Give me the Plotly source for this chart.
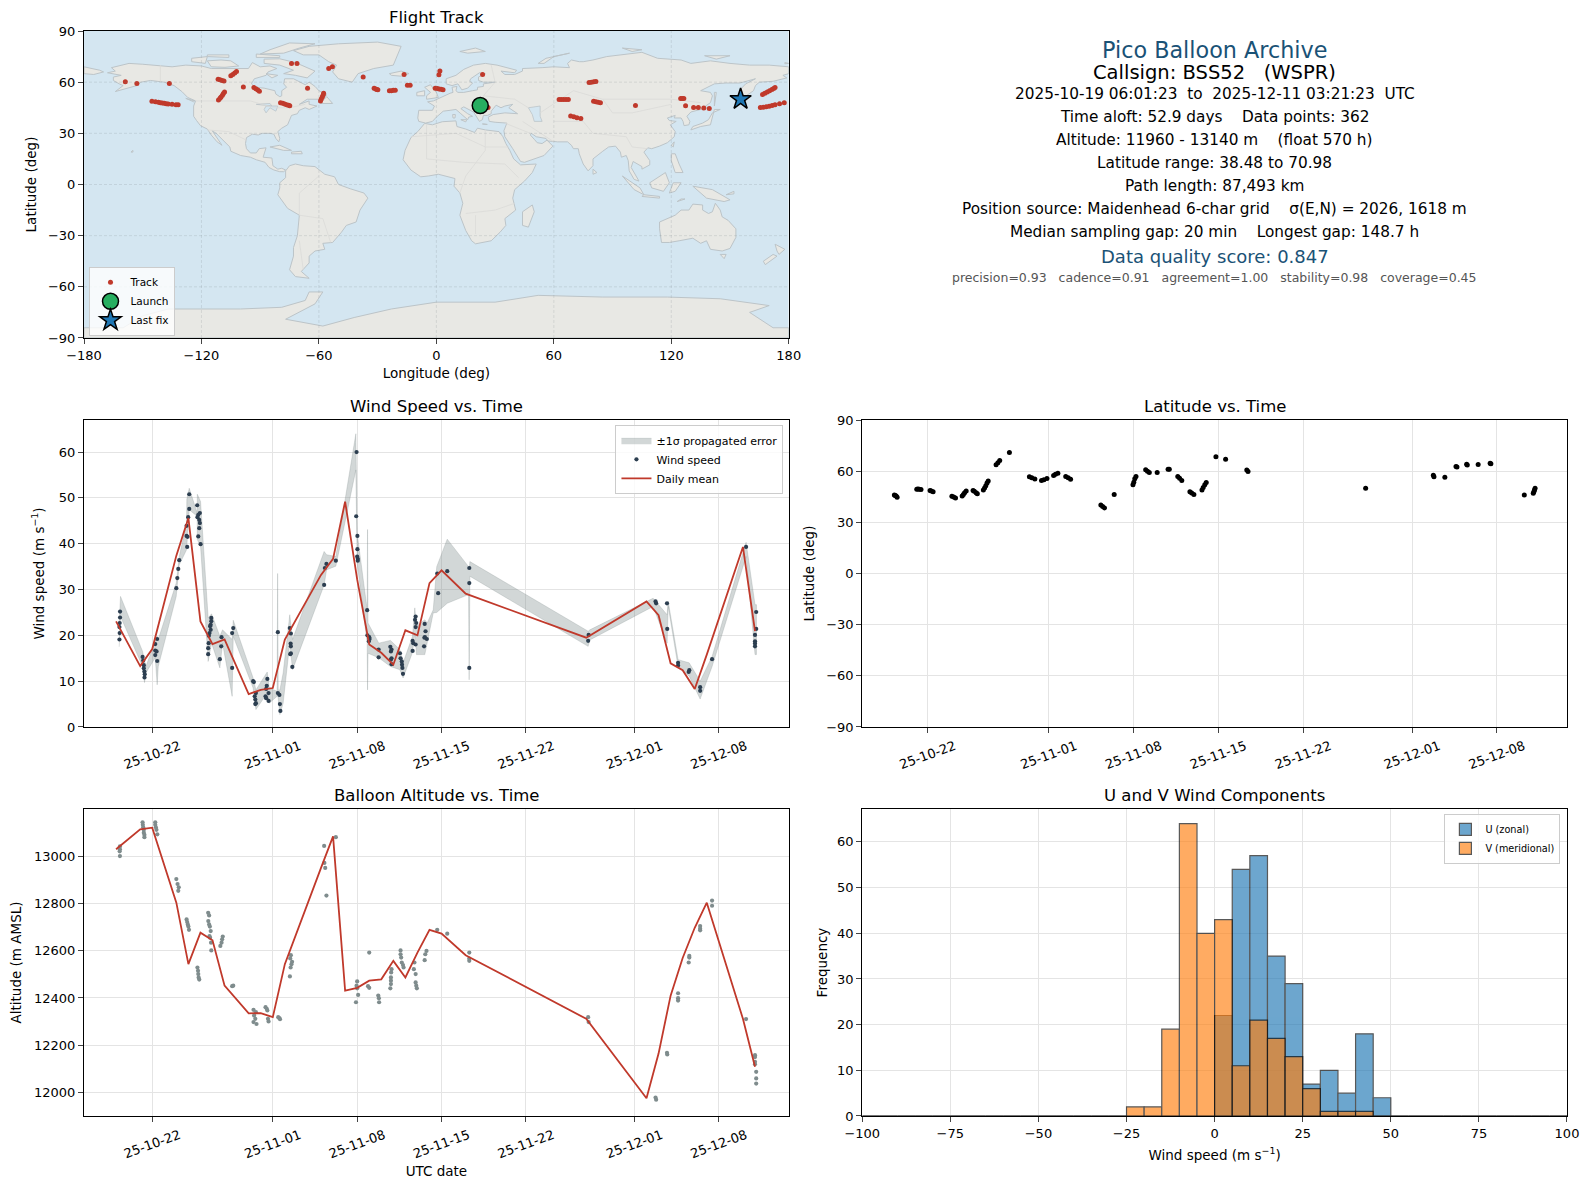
import pandas as pd
import plotly.graph_objects as go
from plotly.subplots import make_subplots

# time axis is "day of October" so 32 = 1 Nov, 62 = 1 Dec
tick_days = [22, 32, 39, 46, 53, 62, 69]

wind_days = [19.33, 19.33, 19.3, 19.28, 19.3, 19.28,
             21.2, 21.25, 21.3, 21.3, 21.35, 21.38, 21.36,
             22.41, 22.25, 22.25, 22.36, 22.25, 22.41,
             24.24, 24.16, 24.08, 24.0,
             25.07, 25.07, 24.98, 24.85, 24.85, 24.93, 24.9,
             25.73, 25.95, 25.82, 25.75, 25.9, 25.95, 25.9, 25.82, 26.01,
             26.9, 26.9, 26.85, 26.8, 26.85, 26.75, 26.7, 26.68, 26.64, 26.64,
             27.75, 27.72, 27.61,
             28.72, 28.63, 28.63,
             30.37, 30.43, 30.6, 30.5, 30.55, 30.6, 30.55,
             31.55, 31.5, 31.45, 31.65, 31.4, 31.45, 31.65,
             32.42, 32.42, 32.55, 32.59, 32.63,
             33.41, 33.5, 33.48, 33.5, 33.5, 33.45, 33.62,
             36.45, 36.32, 36.26,
             37.23,
             38.95, 38.92, 39.02, 39.02, 39.0, 39.05, 39.05,
             39.83, 39.85, 40.0, 40.03, 39.97,
             40.78, 40.78,
             41.75, 41.85, 41.8, 41.85, 41.8, 41.85,
             42.55, 42.6, 42.7, 42.72, 42.75, 42.8,
             43.85, 43.8, 43.9, 43.85, 43.6, 43.65, 43.85, 43.6,
             44.6, 44.67, 44.62, 44.58, 44.78, 44.55,
             45.72, 45.64, 46.47,
             48.3, 48.3, 48.3,
             58.2, 58.16,
             63.75, 63.8,
             64.7, 64.72,
             65.62, 65.62,
             66.55, 66.5,
             67.45, 67.45,
             68.44,
             71.26,
             72.1, 72.1, 72.0, 72.0, 72.0, 72.0]
wind_speed = [25.2, 23.9, 22.7, 21.8, 20.5, 19.1,
              15.3, 14.5, 13.5, 12.8, 12.1, 11.5, 10.8,
              19.2, 18.1, 16.7, 16.5, 15.7, 14.4,
              36.4, 34.5, 32.5, 30.3,
              50.8, 47.6, 45.8, 43.9, 41.7, 41.5, 39.3,
              48.4, 46.7, 46.3, 45.8, 45.2, 44.5, 43.4, 41.6, 39.9,
              23.8, 23.1, 22.3, 22.0, 21.2, 20.5, 19.9, 18.3, 17.2, 15.9,
              19.6, 17.6, 14.8,
              21.6, 20.5, 12.9,
              10.0, 9.8, 7.4, 6.7, 6.0, 5.2, 5.0,
              10.5, 9.0, 8.3, 7.4, 6.7, 6.3, 5.7,
              20.7, 7.4, 7.0, 5.0, 3.5,
              21.6, 20.4, 18.2, 17.6, 16.1, 15.9, 13.1,
              35.6, 34.7, 31.0,
              36.3,
              60.0, 46.0, 41.7, 38.8, 37.2, 36.7, 36.3,
              25.5, 20.0, 19.6, 19.2, 18.7,
              16.9, 15.2,
              17.5, 16.9, 16.5, 15.0, 14.7, 13.7,
              16.1, 15.0, 14.3, 13.6, 12.9, 11.6,
              24.1, 23.4, 22.7, 21.8, 18.8, 18.3, 18.0, 16.6,
              22.5, 20.9, 19.6, 19.5, 19.2, 17.6,
              29.2, 33.5, 34.0,
              34.7, 31.4, 12.9,
              20.1, 18.8,
              27.4, 27.0,
              27.0, 21.4,
              14.0, 13.4,
              12.4, 12.0,
              8.7, 7.9,
              14.8,
              39.3,
              25.1, 21.4, 20.1, 18.7, 18.2, 17.6]

band_days = [19.26, 19.37, 21.2, 21.36, 21.47, 22.25, 22.41, 22.5, 23.99, 24.24, 24.85, 24.87, 25.07,
             25.73, 25.74, 26.01, 26.64, 26.92, 27.61, 27.83, 28.63, 28.72, 30.37, 30.6, 31.54, 31.7,
             32.36, 32.4, 32.45, 32.59, 32.86, 33.41, 33.64, 36.26, 36.46, 37.23, 38.89, 39.0, 39.83,
             39.86, 39.9, 40.79, 41.76, 42.54, 42.81, 43.59, 43.78, 43.92, 44.61, 44.81, 45.31, 45.6,
             46.47, 48.24, 48.29, 48.35, 58.16, 58.3, 63.55, 64.71, 64.8, 65.62, 66.54, 67.45, 68.44,
             71.26, 72.0, 72.12]
band_hi = [22.7, 28.5, 16.5, 14.0, 13.2, 18.7, 19.8, 19.1, 31.4, 37.2, 44.5, 49.7, 52.1,
           46.7, 50.8, 49.2, 23.8, 24.7, 19.8, 21.2, 19.1, 23.3, 10.7, 8.1, 12.0, 8.5,
           7.8, 33.5, 8.1, 8.1, 11.8, 24.5, 19.1, 38.3, 37.6, 37.2, 64.0, 42.3, 25.6,
           43.1, 22.7, 18.3, 18.9, 16.9, 14.0, 19.8, 26.0, 22.0, 23.4, 22.7, 25.6, 35.0,
           41.0, 35.0, 34.3, 36.1, 20.9, 21.2, 28.1, 24.5, 27.4, 14.7, 14.0, 10.0, 15.4,
           40.3, 26.7, 26.7]
band_lo = [17.5, 24.1, 13.2, 9.7, 11.8, 15.1, 9.2, 13.2, 28.5, 35.4, 38.7, 40.9, 47.4,
           46.0, 40.9, 39.4, 14.3, 18.3, 12.9, 18.3, 6.7, 19.8, 8.5, 3.8, 7.4, 5.2,
           6.7, 7.4, 6.7, 2.7, 5.2, 18.3, 12.5, 31.0, 34.3, 35.1, 56.1, 35.8, 18.3,
           8.1, 16.1, 15.1, 13.2, 12.5, 10.7, 16.3, 20.5, 15.8, 15.8, 18.3, 24.9, 25.0,
           27.0, 28.9, 10.3, 32.9, 17.6, 19.0, 26.3, 18.3, 26.3, 13.2, 11.1, 6.1, 13.2,
           37.2, 15.8, 15.8]

mean_days = [19, 21, 22, 24, 25, 26, 27, 28, 30, 31, 32, 33, 36, 37, 38, 39, 40, 41, 42, 43, 44, 45,
             46, 48, 58, 63, 64, 65, 66, 67, 68, 71, 72]
wind_mean = [23.05, 13.3, 17.0, 37.4, 45.6, 23.05, 18.1, 19.1, 7.2, 8.1, 8.5, 19.1, 33.2, 36.7, 49.2,
             32.2, 18.0, 16.2, 13.6, 21.1, 20.0, 31.4, 34.2, 29.1, 19.5, 27.4, 24.4, 13.9, 12.4, 8.3,
             15.8, 39.3, 20.9]
alt_mean = [13029, 13113, 13120, 12803, 12543, 12676, 12644, 12452, 12335, 12336, 12319, 12543, 12950,
            13083, 12431, 12443, 12473, 12479, 12557, 12487, 12592, 12688, 12672, 12581, 12312, 11976,
            12165, 12410, 12569, 12697, 12803, 12312, 12109]

alt_days = [19.32, 19.32, 19.3, 19.32,
            21.2, 21.22, 21.25, 21.3, 21.3, 21.35, 21.35,
            22.25, 22.25, 22.3, 22.35, 22.42,
            24.0, 24.1, 24.2, 24.16,
            24.85, 24.9, 24.95, 25.0, 25.05,
            25.75, 25.8, 25.82, 25.85, 25.9,
            26.64, 26.72, 26.65, 26.72, 26.78, 26.85, 26.75, 26.8, 26.88, 26.9,
            27.85, 27.8, 27.75, 27.65,
            28.63, 28.72,
            30.4, 30.6, 30.45, 30.55, 30.4, 30.65,
            31.4, 31.5, 31.55, 31.6, 31.65,
            32.45, 32.55, 32.6,
            33.5, 33.45, 33.6, 33.55, 33.48, 33.42,
            36.26, 36.28, 36.35, 36.45,
            37.23,
            39.0, 38.95, 39.0, 39.08, 38.9,
            40.0, 39.9, 40.0,
            40.75, 40.8, 40.82,
            41.85, 41.82, 41.8, 41.8, 41.8, 41.75,
            42.6, 42.6, 42.65, 42.7, 42.8, 42.85,
            43.75, 43.7, 43.85, 43.85, 43.9, 43.95,
            44.75, 44.65, 44.6,
            45.64, 46.47,
            48.3, 48.3, 48.3,
            58.16, 58.2,
            63.75, 63.8,
            64.7, 64.72,
            65.62, 65.62, 65.62,
            66.55, 66.55, 66.5,
            67.45, 67.45, 67.45,
            68.44, 68.44,
            71.26,
            72.0, 72.0, 72.0, 72.0, 72.1, 72.1, 72.1]
alt_values = [13041, 13029, 13020, 13000,
              13143, 13132, 13122, 13111, 13099, 13090, 13080,
              13143, 13132, 13122, 13111, 13092,
              12903, 12882, 12868, 12853,
              12732, 12721, 12711, 12702, 12688,
              12529, 12515, 12501, 12487, 12478,
              12760, 12749, 12725, 12711, 12702, 12683, 12662, 12655, 12634, 12601,
              12660, 12648, 12634, 12620,
              12450, 12452,
              12350, 12340, 12326, 12312, 12298, 12290,
              12361, 12354, 12347, 12312, 12301,
              12319, 12315, 12310,
              12581, 12567, 12553, 12543, 12529, 12491,
              13043, 12971, 12950, 12833,
              13080,
              12470, 12452, 12441, 12413, 12382,
              12592, 12450, 12443,
              12410, 12399, 12382,
              12522, 12508, 12487, 12473, 12459, 12441,
              12601, 12585, 12571, 12550, 12539, 12529,
              12550, 12522, 12501, 12466, 12452, 12441,
              12599, 12585, 12560,
              12688, 12672,
              12592, 12567, 12557,
              12319, 12298,
              11979, 11970,
              12168, 12161,
              12420, 12399, 12389,
              12578, 12571, 12550,
              12704, 12693, 12686,
              12812, 12790,
              12311,
              12158, 12150, 12130, 12120, 12088, 12060, 12038]

lat_days = [19.25, 19.32, 19.4, 19.48,
            21.1, 21.2, 21.3, 21.45,
            22.2, 22.3, 22.45,
            24.0, 24.15, 24.3,
            24.85, 24.95, 25.05, 25.18,
            25.75, 25.85, 26.0, 26.1,
            26.6, 26.7, 26.8, 26.9, 27.0,
            27.65, 27.8, 27.95,
            28.75,
            30.4, 30.6, 30.85,
            31.4, 31.6, 31.85,
            32.4, 32.55, 32.75,
            33.4, 33.6, 33.8,
            36.3, 36.45, 36.6,
            37.4,
            38.95, 39.02, 39.1, 39.2,
            40.0, 40.15, 40.3,
            40.95,
            41.85, 41.95,
            42.65, 42.8, 42.98,
            43.65, 43.8, 43.98,
            44.65, 44.75, 44.88, 45.0,
            45.8,
            46.6,
            48.35, 48.45,
            58.16,
            63.75, 63.8,
            64.7,
            65.62, 65.7,
            66.5, 66.55,
            67.45,
            68.44, 68.5,
            71.26,
            72.0, 72.05, 72.1, 72.15]
lat_values = [46.1, 45.8, 45.4, 44.7,
              49.4, 49.5, 49.4, 49.3,
              48.6, 48.4, 48.0,
              45.3, 44.8, 44.3,
              45.5, 46.3, 47.4, 48.4,
              48.6, 48.2, 47.4, 46.7,
              49.0, 50.2, 51.5, 53.0, 54.3,
              63.7, 65.0, 66.3,
              70.98,
              56.7, 56.2, 55.4,
              54.5, 54.9, 55.7,
              57.5, 58.2, 58.8,
              56.9, 56.2, 55.3,
              40.2, 39.3, 38.48,
              46.3,
              52.0, 53.5, 55.5, 56.9,
              60.8, 60.0, 59.2,
              59.2,
              61.2, 61.2,
              56.9, 55.8, 54.5,
              48.0, 47.2, 46.3,
              49.0, 50.5, 52.0, 53.3,
              68.4,
              67.0,
              60.7, 59.8,
              50.0,
              57.6, 56.8,
              56.5,
              62.8, 62.4,
              64.0, 63.6,
              63.9,
              64.6, 64.3,
              46.0,
              47.0, 48.0, 49.0, 50.0]

track_lon = [-158.9, -153, -136.4,
             -145.3, -143.5, -142, -141, -140, -139, -138, -137, -135, -133, -131.9,
             -111.5, -110.5, -109.5, -108.5,
             -105, -104, -103, -102.1,
             -111.3, -110.5, -110, -109.3, -108.8, -108.2,
             -98.6,
             -93.2, -92.2, -91.2, -90.4,
             -79.6, -78.5, -77.5, -76.5, -75.5, -74.9,
             -74, -71.2,
             -65.8,
             -59.2, -58.8, -58.3, -57.9, -57.6,
             -55, -53.1,
             -37.4,
             -31.8, -31, -30.4, -29.9,
             -24, -23, -22, -21,
             -16.5,
             -14.8, -13.4,
             -0.6, 0.4, 1.4, 2.4, 3.4,
             1.3, 1.8,
             23.6,
             26.4,
             62.7, 63.8, 65, 66.2, 67.4,
             68.6, 70.2, 71.8, 73.8,
             78, 79.2, 80.4, 81.5,
             80.3, 81.5, 82.6, 83.8,
             101.7,
             124.8, 125.6, 126.4,
             127.3,
             131.4, 133.8, 136.6, 139.4,
             165.5, 167, 168.5, 170, 171.5, 173, 175.3, 177.7,
             166.6, 167.8, 169, 170.2, 171.4, 172.3, 173]
track_lat = [60.3, 59.2, 59.2,
             48.8, 48.5, 48.2, 48, 47.8, 47.6, 47.4, 47.2, 47, 46.8, 46.7,
             61.7, 61.4, 61, 60.7,
             63.7, 64.5, 65.4, 66.2,
             49.6, 50.5, 51.3, 52.3, 53.3, 54.3,
             57.2,
             56.8, 56.2, 55.4, 54.7,
             48, 47.6, 47.2, 46.8, 46.4, 46.1,
             70.9, 70.9,
             56.4,
             49, 50.2, 51.3, 52.4, 53.5,
             68, 69.1,
             63.1,
             56.4, 56, 55.7, 55.5,
             54.9, 55, 55.2, 55.3,
             64.5,
             58.2, 58.2,
             56.4, 56.3, 56, 55.8, 55.5,
             64.3, 66.6,
             64.5,
             45.1,
             49.8, 49.8, 49.8, 49.8, 49.8,
             40.2, 39.7, 39.2, 38.7,
             59.8, 60, 60.2, 60.4,
             48.8, 48.5, 48.2, 47.9,
             46.3,
             50.4, 50.4, 50.4,
             46.1,
             45.1, 45.1, 44.8, 44.5,
             45.1, 45.3, 45.6, 45.9, 46.3, 46.8, 47.4, 48,
             52.7, 53.5, 54.2, 55, 55.7, 56.3, 56.8]
launch_lon, launch_lat = [22.4], [46.3]
lastfix_lon, lastfix_lat = [155.4], [50.0]

# land outlines (lon, lat)
north_america = [(-168, 65.5), (-164, 66.5), (-166, 68.5), (-157, 71), (-150, 70.5), (-141, 69.7), (-135, 69), (-128, 70),
                 (-120, 69.5), (-115, 68), (-108, 68), (-101, 68), (-96, 68), (-94, 71.5), (-90, 69), (-85, 69.5),
                 (-81.5, 68), (-86, 66), (-87, 64), (-93, 62), (-94.5, 59), (-92.5, 57), (-88, 56.5), (-82.5, 55),
                 (-82, 53), (-80, 51.5), (-79, 52), (-79, 55), (-76.5, 57), (-78, 59), (-77.5, 62), (-73, 62), (-70, 60),
                 (-67, 58.5), (-65, 60), (-62, 57.5), (-60, 55), (-56, 52.5), (-60, 50), (-66, 50), (-70, 47), (-65, 49),
                 (-65, 47), (-61, 46), (-65, 44), (-67, 45), (-70, 43.5), (-71, 41.5), (-74, 40.5), (-75.5, 37), (-76, 35),
                 (-79, 33), (-81, 31), (-80, 27), (-80.5, 25), (-82, 27), (-83, 29.5), (-85, 30), (-89, 30), (-91, 29),
                 (-94, 29.5), (-97, 27.5), (-97.5, 24), (-97, 21), (-95, 18.5), (-92, 18.5), (-90.5, 21), (-87, 21.5),
                 (-88, 18), (-88.5, 16), (-84, 15.5), (-83.5, 11), (-81, 9), (-79, 9.5), (-77, 8.5), (-78, 7.5), (-80, 7.5),
                 (-83, 8.5), (-85.5, 10), (-87.5, 13), (-92, 14.5), (-95, 16), (-100, 17), (-105, 19.5), (-105.5, 22),
                 (-109, 26), (-112.5, 30), (-114.5, 31.5), (-112, 27), (-109.5, 23), (-112, 25), (-115, 29), (-117, 32.5),
                 (-120.5, 34.5), (-122.5, 37.5), (-124, 40), (-124, 46), (-123, 49), (-127, 51), (-130, 54.5), (-134, 58),
                 (-139, 60), (-146, 61), (-151, 60), (-153, 58), (-158, 56.5), (-164, 54.5), (-160, 58), (-162, 59),
                 (-165, 61), (-165, 63), (-161, 64), (-168, 65.5)]
greenland = [(-73, 78.5), (-65, 81), (-50, 82.5), (-30, 83.5), (-18, 81), (-20, 75), (-22, 70), (-32, 68), (-40, 65),
             (-43, 60), (-50, 62), (-53, 66), (-51, 70), (-55, 72), (-60, 76), (-68, 76), (-73, 78.5)]
baffin = [(-88, 73.5), (-80, 73.7), (-72, 71.5), (-67, 69), (-62, 66.5), (-66, 62.5), (-72, 64), (-78, 65), (-73, 67),
          (-80, 70), (-88, 71), (-88, 73.5)]
victoria = [(-117, 72.5), (-110, 73), (-105, 72.5), (-101, 69.5), (-108, 68.7), (-115, 69), (-117, 72.5)]
ellesmere = [(-90, 76.5), (-85, 79), (-75, 83), (-62, 82.5), (-70, 80), (-78, 77), (-90, 76.5)]
banks = [(-125, 74), (-117, 75), (-118, 71), (-125, 72), (-125, 74)]
devon = [(-92, 76.5), (-80, 75.5), (-80, 74.5), (-92, 74.5), (-92, 76.5)]
melville = [(-117, 76), (-106, 76), (-106, 74.5), (-117, 75), (-117, 76)]
southampton = [(-87, 65), (-81, 64), (-84, 62.5), (-87, 65)]
newfoundland = [(-59, 48), (-56, 51.5), (-53, 47.5), (-59, 47.5), (-59, 48)]
vancouver = [(-128, 50.5), (-124, 48.5), (-123.5, 49), (-128, 50.5)]
hawaii = [(-156, 19), (-155, 20), (-155, 19), (-156, 19)]
iceland = [(-24, 65), (-18, 66.5), (-14, 65), (-18, 63.5), (-23, 64), (-24, 65)]
britain = [(-5, 50), (1, 51), (0, 54), (-3, 58.5), (-6, 57), (-3, 54), (-5, 52), (-5, 50)]
ireland = [(-10, 52), (-6, 52), (-6, 55), (-10, 54), (-10, 52)]
eurasia = [(-9, 37), (-9.5, 39), (-9, 43.5), (-2, 43.5), (-1, 46), (-4.5, 48.5), (-1.5, 49), (2, 51), (4, 52), (7, 53.5),
           (8.5, 54), (8, 57), (10.5, 57.5), (10, 55), (11, 54), (14, 54), (18.5, 55), (21, 55.5), (21, 57), (24, 57.5),
           (24, 59), (30, 60), (24, 60), (21.5, 61), (21.5, 63), (25, 65), (22, 65.5), (17.5, 62), (17, 60.5), (18.5, 59.5),
           (16, 56.5), (13, 55.5), (11, 59), (8, 58), (5, 59), (5, 62), (10, 64), (14, 67.5), (19, 70), (25, 71), (31, 70),
           (41, 67), (40, 65.5), (35, 66.5), (33, 66.5), (35, 64.5), (40, 64.5), (44, 66.5), (44, 68), (54, 68.5), (60, 69),
           (68, 68.5), (67, 71), (69, 73), (73, 72), (75, 72), (80, 73), (87, 75), (100, 76.5), (105, 77.5), (113, 74),
           (125, 73), (130, 71), (140, 72.5), (150, 71), (160, 70), (170, 70), (180, 69), (180, 65), (177, 64), (179, 62.5),
           (172, 60.5), (165, 60), (163, 58), (162, 55), (157, 51), (155.5, 56), (158, 59), (163, 62), (155, 59.5),
           (148, 59.5), (142, 59), (135, 55), (140, 54), (141, 52), (140, 48), (135, 44), (130, 42.5), (128, 40),
           (129.5, 37), (129, 35), (126.5, 34.5), (126, 37), (125, 39), (121.5, 39), (122, 40.5), (118, 39), (119, 37.5),
           (122.5, 37), (119.5, 35), (122, 31), (121.5, 28), (118, 24.5), (114, 22.5), (110, 21), (108, 21.5), (106, 19),
           (109, 14), (109, 11.5), (105, 9), (105, 10.5), (100.5, 13.5), (99.5, 10), (103.5, 2), (101, 3), (98.5, 8),
           (98, 14), (97, 17), (94.5, 16), (94, 19), (91.5, 22.5), (88, 22), (85, 19.5), (80, 15), (80, 11), (77.5, 8),
           (75, 12), (73, 18), (72.5, 21), (70, 21), (69, 23), (67, 25), (62, 25), (57, 25.5), (56, 27), (51, 28),
           (48.5, 30), (48, 29), (50, 26.5), (51.5, 24.5), (54, 24), (56.5, 26), (59.5, 22.5), (55, 17), (45, 13),
           (43, 13.5), (39, 21), (35, 28), (34.5, 31.5), (36, 36), (30, 36.5), (27, 37), (26.5, 39.5), (29, 41), (35, 42),
           (41.5, 41.5), (37, 45), (39, 47), (35, 46), (33, 45), (30.5, 46.5), (28, 43), (28, 41.5), (26, 40.5), (24, 40.5),
           (23.5, 38), (22, 37), (19.5, 41), (19, 42.5), (14, 45.5), (12.5, 44.5), (16, 41.5), (18.5, 40), (16.5, 39.5),
           (16, 38), (12.5, 41.5), (10, 44), (7, 43.5), (3.5, 43), (0, 39.5), (-2, 37), (-5.5, 36), (-9, 37)]
chukotka = [(-180, 69), (-172, 67), (-170, 66), (-175, 64.5), (-180, 65), (-180, 69)]
africa = [(-17, 14.5), (-16, 20), (-13, 27.5), (-9.5, 31), (-6, 35.8), (-2, 35), (3, 36.8), (10, 37.3), (10.5, 34), (15, 32.5),
          (19.5, 30.5), (21, 33), (25, 32), (32, 31), (34, 28), (35.5, 24), (37.5, 20), (39.5, 15), (43, 11.5), (51, 12),
          (49, 7), (45, 2), (40, -3), (39, -8), (40.5, -15), (35, -20), (35.5, -24), (32.5, -28), (28, -33), (20, -34.8),
          (18, -33), (15, -27), (12, -18), (13.5, -11), (12, -5), (9, -1), (9.5, 3.5), (6, 4.5), (1, 6), (-4, 5), (-8, 4.5),
          (-13, 8.5), (-17, 14.5)]
madagascar = [(44, -16), (49, -12), (50, -16), (47, -25), (44, -24), (44, -16)]
south_america = [(-77, 8), (-75, 11), (-72, 12), (-68, 11), (-62, 10.5), (-57, 6), (-52, 4.5), (-50, 0), (-44, -2.5), (-37, -5),
                 (-35, -8), (-39, -15), (-41, -22), (-46, -24), (-48.5, -28), (-53, -34), (-58, -34.5), (-57, -38), (-62, -39),
                 (-65, -42), (-65, -46), (-69, -51), (-65, -55), (-72, -54), (-75, -50), (-73, -42), (-73, -37), (-71, -30),
                 (-70, -18), (-76, -14), (-81, -6), (-80, -2), (-80, 1), (-77, 4), (-77, 8)]
australia = [(114, -22), (114, -26), (115, -34), (119, -34), (124, -33), (131, -31.5), (135, -34.5), (138, -33), (140, -38),
             (146, -39), (150, -37.5), (153, -31), (153, -26), (149, -21), (146, -19), (145, -15), (142.5, -11), (141, -16),
             (139, -17), (136, -15), (136, -12), (131, -11.5), (129, -15), (125, -15), (122, -18), (117, -20.5), (114, -22)]
tasmania = [(145, -41), (148, -41), (147, -43.5), (145, -41)]
nz_north = [(173, -35), (178, -38), (175, -41), (174, -39), (173, -35)]
nz_south = [(172, -41), (174, -42), (168, -47), (167, -45), (172, -41)]
antarctica = [(-180, -90), (-180, -84), (-160, -84), (-150, -77), (-137, -73), (-119, -73), (-100, -73), (-79, -72),
              (-67, -68), (-65, -63), (-58, -63), (-62, -70), (-77, -79), (-58, -83), (-42, -78), (-23, -73),
              (0, -69), (30, -69), (52, -65), (85, -66), (118, -66), (145, -67), (170, -71), (160, -75), (172, -84),
              (180, -84), (180, -90), (-180, -90)]
japan = [(130, 32), (135, 34), (140, 35), (141, 40), (142, 44), (145, 44), (141, 42), (139, 38), (136, 36), (131, 34),
         (130, 32)]
sakhalin = [(142, 46), (143, 54), (142, 54), (142, 46)]
taiwan = [(120, 23), (121.5, 25), (121, 22), (120, 23)]
philippines = [(120, 18), (122, 18), (124, 12), (126, 7), (122, 7), (120, 14), (120, 18)]
borneo = [(109, 1), (117, 7), (119, 1), (116, -4), (110, -2), (109, 1)]
sumatra = [(95, 5), (104, -2), (106, -6), (101, -3), (95, 5)]
java = [(105, -7), (114, -8), (114, -7), (106, -6), (105, -7)]
sulawesi = [(119, -5), (121, 1), (125, 1), (122, -4), (119, -5)]
timor = [(123, -10), (127, -8.5), (125, -8.5), (123, -10)]
new_guinea = [(131, -1), (141, -3), (150, -9), (147, -10), (138, -8), (131, -1)]
new_britain = [(148, -6), (152, -4), (152, -5.5), (148, -6)]
cuba = [(-85, 22), (-80, 23), (-74, 20), (-78, 20), (-85, 22)]
hispaniola = [(-74, 19), (-69, 19.5), (-68.5, 18), (-74, 18), (-74, 19)]
svalbard = [(12, 78), (20, 80), (25, 78), (16, 77), (12, 78)]
novaya_zemlya = [(52, 71), (56, 74), (68, 77), (60, 75), (55, 71), (52, 71)]
severnaya = [(95, 80), (105, 79), (100, 78), (95, 80)]
new_siberia = [(137, 75.5), (150, 75.5), (143, 73.5), (137, 75.5)]
wrangel = [(178, 71.5), (180, 71), (178, 70.8), (178, 71.5)]
sri_lanka = [(80, 9), (82, 7), (80, 6), (80, 9)]
sicily = [(12.5, 38), (15.5, 38), (15, 36.7), (12.5, 38)]
sardinia = [(8.3, 41), (9.7, 41), (9.5, 39), (8.5, 39), (8.3, 41)]
crete = [(23.5, 35.5), (26, 35.2), (24, 35), (23.5, 35.5)]
land_polys = [north_america, greenland, baffin, victoria, ellesmere, banks, devon, melville, southampton, newfoundland,
              vancouver, hawaii, iceland, britain, ireland, eurasia, chukotka, africa, madagascar, south_america,
              australia, tasmania, nz_north, nz_south, antarctica, japan, sakhalin, taiwan, philippines, borneo, sumatra,
              java, sulawesi, timor, new_guinea, new_britain, cuba, hispaniola, svalbard, novaya_zemlya, severnaya,
              new_siberia, wrangel, sri_lanka, sicily, sardinia, crete]

caspian = [(47, 45), (53, 46), (53, 40), (54, 37), (50, 37), (49, 41), (47, 45)]
superior = [(-92, 47), (-85, 47.5), (-84, 46), (-88, 46.5), (-92, 47)]
michigan_huron = [(-87, 46), (-81, 46), (-82, 43), (-85, 45), (-87, 42), (-88, 44), (-87, 46)]
water_polys = [caspian, superior, michigan_huron]

borders = [[(-141, 70), (-141, 60)],
           [(-123, 49), (-95, 49), (-83, 45), (-75, 45), (-67, 47)],
           [(-117, 32), (-106, 31), (-97, 26)],
           [(-70, -18), (-58, -20), (-54, -34)],
           [(-70, -18), (-70, -5), (-60, 5)],
           [(-70, -33), (-68, -50)],
           [(-13, 28), (10, 30), (25, 22), (37, 22)],
           [(25, 32), (25, 20), (15, 5), (12, -5)],
           [(-5, 35), (-5, 15), (14, 13), (35, 12), (42, 4)],
           [(15, -17), (30, -15), (40, -11)],
           [(20, -18), (20, -29)],
           [(28, 70), (30, 60), (24, 52), (40, 50), (47, 45)],
           [(53, 42), (70, 55), (85, 50), (120, 50), (135, 48)],
           [(60, 37), (75, 37), (80, 30), (97, 28), (100, 22), (108, 21)],
           [(85, 50), (90, 42), (100, 42), (120, 47)],
           [(35, 36), (48, 30)],
           [(44, 37), (60, 25)]]

# histogram, 5 m/s bins from -100 to 100
bin_width = 5
bin_centers = [-97.5 + 5 * i for i in range(40)]
u_counts = [0] * 20 + [22, 54, 57, 35, 29, 7, 10, 5, 18, 4] + [0] * 10
v_counts = [0] * 15 + [2, 2, 19, 64, 40, 43, 11, 21, 17, 13, 6, 1, 1, 1] + [0] * 11

summary_lines = [("Pico Balloon Archive", 50.7, 22.3, "#1a5276"),
                 ("Callsign: BSS52   (WSPR)", 73, 19.5, "black"),
                 ("2025-10-19 06:01:23  to  2025-12-11 03:21:23  UTC", 94.3, 15.3, "black"),
                 ("Time aloft: 52.9 days    Data points: 362", 117.6, 15.3, "black"),
                 ("Altitude: 11960 - 13140 m    (float 570 h)", 140, 15.3, "black"),
                 ("Latitude range: 38.48 to 70.98", 163, 15.3, "black"),
                 ("Path length: 87,493 km", 186.6, 15.3, "black"),
                 ("Position source: Maidenhead 6-char grid    σ(E,N) = 2026, 1618 m", 209, 15.3, "black"),
                 ("Median sampling gap: 20 min    Longest gap: 148.7 h", 232, 15.3, "black"),
                 ("Data quality score: 0.847", 256.5, 18, "#1a5276"),
                 ("precision=0.93   cadence=0.91   agreement=1.00   stability=0.98   coverage=0.45", 278, 12.5, "#555555")]


def to_date(days):
    return pd.Timestamp("2025-09-30") + pd.to_timedelta(days, unit="D")


def flatten(polys):
    xs, ys = [], []
    for p in polys:
        xs += [c[0] for c in p] + [None]
        ys += [c[1] for c in p] + [None]
    return xs, ys


FONT = "DejaVu Sans"
RED = "#c0392b"
GRID = "#e4e4e4"
# page has an 8px body margin, so figure is 16px smaller than the window
W, H = 1574, 1173
L, R, T, B = 75.5, 15.4, 23.3, 65

fig = make_subplots(rows=3, cols=2,
                    specs=[[{}, None], [{}, {}], [{}, {}]],
                    horizontal_spacing=73.5 / (W - L - R),
                    vertical_spacing=82 / (H - T - B),
                    subplot_titles=("Flight Track", "Wind Speed vs. Time", "Latitude vs. Time",
                                    "Balloon Altitude vs. Time", "U and V Wind Components"))

# map
lx, ly = flatten(land_polys)
fig.add_trace(go.Scatter(x=lx, y=ly, mode="lines", fill="toself", fillcolor="#e8e8e4",
                         line=dict(color="#bcc4c8", width=1), showlegend=False, hoverinfo="skip"), 1, 1)
wx, wy = flatten(water_polys)
fig.add_trace(go.Scatter(x=wx, y=wy, mode="lines", fill="toself", fillcolor="#d4e6f1",
                         line=dict(color="#bcc4c8", width=0.8), showlegend=False, hoverinfo="skip"), 1, 1)
bx, by = flatten(borders)
fig.add_trace(go.Scatter(x=bx, y=by, mode="lines", line=dict(color="#dadbd8", width=0.8),
                         showlegend=False, hoverinfo="skip"), 1, 1)
fig.add_trace(go.Scatter(x=track_lon, y=track_lat, mode="markers", name="Track", legend="legend",
                         marker=dict(color=RED, size=5)), 1, 1)
fig.add_trace(go.Scatter(x=launch_lon, y=launch_lat, mode="markers", name="Launch", legend="legend",
                         marker=dict(color="#27ae60", size=16, line=dict(color="black", width=1.5))), 1, 1)
fig.add_trace(go.Scatter(x=lastfix_lon, y=lastfix_lat, mode="markers", name="Last fix", legend="legend",
                         marker=dict(color="#1f77b4", symbol="star", size=16, line=dict(color="black", width=1.5))), 1, 1)

# wind speed
band_x = [to_date(d) for d in band_days + band_days[::-1]]
fig.add_trace(go.Scatter(x=band_x, y=band_hi + band_lo[::-1], mode="lines", fill="toself",
                         fillcolor="rgba(127,140,141,0.35)", line=dict(width=1, color="rgba(127,140,141,0.25)"),
                         name="±1σ propagated error", legend="legend2"), 2, 1)
fig.add_trace(go.Scatter(x=to_date(wind_days), y=wind_speed, mode="markers", name="Wind speed", legend="legend2",
                         marker=dict(color="#2c3e50", size=4.2)), 2, 1)
fig.add_trace(go.Scatter(x=to_date(mean_days), y=wind_mean, mode="lines", name="Daily mean", legend="legend2",
                         line=dict(color=RED, width=1.8)), 2, 1)

# latitude
fig.add_trace(go.Scatter(x=to_date(lat_days), y=lat_values, mode="markers", showlegend=False,
                         marker=dict(color="black", size=5)), 2, 2)

# altitude
fig.add_trace(go.Scatter(x=to_date(alt_days), y=alt_values, mode="markers", showlegend=False,
                         marker=dict(color="#7f8c8d", size=4.2)), 3, 1)
fig.add_trace(go.Scatter(x=to_date(mean_days), y=alt_mean, mode="lines", showlegend=False,
                         line=dict(color=RED, width=1.8)), 3, 1)

# histogram
fig.add_trace(go.Bar(x=bin_centers, y=u_counts, width=bin_width, name="U (zonal)", legend="legend3", opacity=0.65,
                     marker=dict(color="#1f77b4", line=dict(color="black", width=1.2))), 3, 2)
fig.add_trace(go.Bar(x=bin_centers, y=v_counts, width=bin_width, name="V (meridional)", legend="legend3", opacity=0.65,
                     marker=dict(color="#ff7f0e", line=dict(color="black", width=1.2))), 3, 2)

axis_style = dict(showline=True, linecolor="black", linewidth=1, mirror=True, ticks="outside", ticklen=5, tickwidth=1,
                  showgrid=True, gridcolor=GRID, gridwidth=1, zeroline=False, automargin=False,
                  tickfont=dict(size=13, color="black"), title_font=dict(size=13.5, color="black"))
fig.update_xaxes(**axis_style)
fig.update_yaxes(**axis_style)

# ocean goes under the land, graticule on top of it
fig.add_shape(type="rect", x0=-180, x1=180, y0=-90, y1=90, fillcolor="#d4e6f1", line_width=0, layer="below", row=1, col=1)
for lon in [-120, -60, 0, 60, 120]:
    fig.add_shape(type="line", x0=lon, x1=lon, y0=-90, y1=90, layer="above", row=1, col=1,
                  line=dict(color="rgba(120,130,135,0.28)", width=0.7, dash="3px,2px"))
for lat in [-60, -30, 0, 30, 60]:
    fig.add_shape(type="line", x0=-180, x1=180, y0=lat, y1=lat, layer="above", row=1, col=1,
                  line=dict(color="rgba(120,130,135,0.28)", width=0.7, dash="3px,2px"))

fig.update_xaxes(range=[-180, 180], tickvals=[-180, -120, -60, 0, 60, 120, 180], showgrid=False,
                 title_text="Longitude (deg)", title_standoff=6, row=1, col=1)
fig.update_yaxes(range=[-90, 90], tickvals=[-90, -60, -30, 0, 30, 60, 90], showgrid=False,
                 title_text="Latitude (deg)", title_standoff=8, row=1, col=1)

date_ticks = dict(tickvals=to_date(tick_days), tickformat="%y-%m-%d", tickangle=-20, ticklabelshift=27, ticklabelstandoff=1)
fig.update_xaxes(range=[to_date(16.34), to_date(74.8)], **date_ticks, row=2, col=1)
fig.update_xaxes(range=[to_date(16.6), to_date(74.785)], **date_ticks, row=2, col=2)
fig.update_xaxes(range=[to_date(16.34), to_date(74.8)], **date_ticks, title_text="UTC date", title_standoff=6, row=3, col=1)

fig.update_yaxes(range=[0, 67], tickvals=list(range(0, 70, 10)), title_text="Wind speed (m s<sup>−1</sup>)",
                 title_standoff=11, row=2, col=1)
fig.update_yaxes(range=[-90, 90], tickvals=[-90, -60, -30, 0, 30, 60, 90], title_text="Latitude (deg)",
                 title_standoff=8, row=2, col=2)
fig.update_yaxes(range=[11901, 13199], tickvals=list(range(12000, 13200, 200)), tickformat="d",
                 title_text="Altitude (m AMSL)", title_standoff=9, row=3, col=1)
fig.update_xaxes(range=[-100, 100], tickvals=list(range(-100, 125, 25)), title_text="Wind speed (m s<sup>−1</sup>)",
                 title_standoff=10, row=3, col=2)
fig.update_yaxes(range=[0, 67.2], tickvals=list(range(0, 70, 10)), title_text="Frequency", title_standoff=6, row=3, col=2)

for a in fig.layout.annotations:
    a.font = dict(size=16.5, color="black", family=FONT)
    a.yshift = 2


def px_x(px):
    return (px - 8 - L) / (W - L - R)


def px_y(py):
    return 1 - (py - 8 - T) / (H - T - B)


for text, py, size, color in summary_lines:
    fig.add_annotation(text=text, x=px_x(1214.5), y=px_y(py), xref="paper", yref="paper", showarrow=False,
                       xanchor="center", yanchor="middle", font=dict(size=size, color=color, family=FONT))

legend_style = dict(bgcolor="rgba(255,255,255,0.8)", bordercolor="#cccccc", borderwidth=1, tracegroupgap=0)
fig.update_layout(
    width=W, height=H, margin=dict(l=L, r=R, t=T, b=B),
    font=dict(family=FONT, color="black"),
    plot_bgcolor="white", paper_bgcolor="white",
    barmode="overlay", hovermode="closest",
    legend=dict(x=px_x(89), y=px_y(336), xanchor="left", yanchor="bottom", font=dict(size=10.5), **legend_style),
    legend2=dict(x=px_x(783), y=px_y(425), xanchor="right", yanchor="top", font=dict(size=11), **legend_style),
    legend3=dict(x=px_x(1560), y=px_y(814), xanchor="right", yanchor="top", font=dict(size=9.7), **legend_style),
)

fig.write_html("out.html")
